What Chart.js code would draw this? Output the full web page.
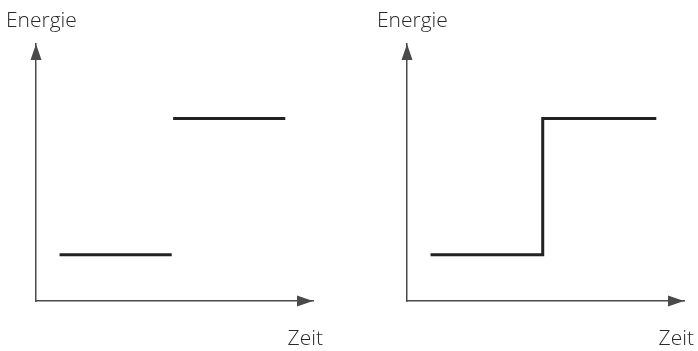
<!DOCTYPE html>
<html>
<head>
<meta charset="utf-8">
<script src="https://cdn.jsdelivr.net/npm/chart.js@4.4.1/dist/chart.umd.min.js"></script>
<style>
  html, body { margin: 0; padding: 0; background: #fff; }
  body { width: 698px; height: 351px; position: relative; overflow: hidden; }
  .panel { position: absolute; top: 0; width: 327px; height: 351px; }
  #left { left: 0; }
  #right { left: 371px; }
</style>
</head>
<body>
<div class="panel" id="left"><canvas id="chartLeft"></canvas></div>
<div class="panel" id="right"><canvas id="chartRight"></canvas></div>
<script>
// axis labels
const yLabel = 'Energie';
const xLabel = 'Zeit';

// energy levels (arbitrary units, 0..10)
const energyLow = 1.8;
const energyHigh = 7.1;

// time positions (arbitrary units, 0..10)
const lowStart = 0.85;
const lowEnd = 4.9;
const highStart = 4.95;
const highEnd = 9.0;
const stepAt = 4.9;

const lineColor = '#222';
const axisColor = '#4a4a4a';

// draws arrow heads at the axis ends and the two axis labels
const axisDecor = {
  id: 'axisDecor',
  afterDraw(chart) {
    const { ctx, chartArea } = chart;
    const x0 = chartArea.left, y0 = chartArea.bottom;
    ctx.save();
    ctx.fillStyle = axisColor;
    // y arrow
    ctx.beginPath();
    ctx.moveTo(x0, chartArea.top);
    ctx.lineTo(x0 - 5.5, chartArea.top + 16);
    ctx.lineTo(x0 + 5.5, chartArea.top + 16);
    ctx.closePath();
    ctx.fill();
    // x arrow
    ctx.beginPath();
    ctx.moveTo(chartArea.right, y0);
    ctx.lineTo(chartArea.right - 16, y0 - 5.5);
    ctx.lineTo(chartArea.right - 16, y0 + 5.5);
    ctx.closePath();
    ctx.fill();

    ctx.fillStyle = '#2a2a2a';
    ctx.font = '300 21px "Open Sans", "Noto Sans", sans-serif';
    ctx.textBaseline = 'alphabetic';
    ctx.textAlign = 'left';
    ctx.fillText(yLabel, x0 - 30, 27);
    ctx.textAlign = 'right';
    ctx.fillText(xLabel, chartArea.right + 10, 345);
    ctx.restore();
  }
};

function baseOptions() {
  return {
    responsive: true,
    maintainAspectRatio: false,
    animation: false,
    layout: { padding: { left: 36, right: 14, top: 44, bottom: 50 } },
    plugins: { legend: { display: false }, tooltip: { enabled: false } },
    elements: {
      point: { radius: 0 },
      line: { borderWidth: 3, borderColor: lineColor, borderCapStyle: 'butt', borderJoinStyle: 'miter', tension: 0 }
    },
    scales: {
      x: {
        type: 'linear', min: 0, max: 10,
        grid: { display: false },
        ticks: { display: false },
        border: { display: true, color: axisColor, width: 1.5 },
        afterFit(scale) { scale.height = 0; }
      },
      y: {
        type: 'linear', min: 0, max: 10,
        grid: { display: false },
        ticks: { display: false },
        border: { display: true, color: axisColor, width: 1.5 },
        afterFit(scale) { scale.width = 0; }
      }
    }
  };
}

// left: two separate energy levels
new Chart(document.getElementById('chartLeft'), {
  type: 'line',
  data: {
    datasets: [
      { data: [{ x: lowStart, y: energyLow }, { x: lowEnd, y: energyLow }] },
      { data: [{ x: highStart, y: energyHigh }, { x: highEnd, y: energyHigh }] }
    ]
  },
  options: baseOptions(),
  plugins: [axisDecor]
});

// right: step from low to high level
new Chart(document.getElementById('chartRight'), {
  type: 'line',
  data: {
    datasets: [
      {
        data: [
          { x: lowStart, y: energyLow },
          { x: stepAt, y: energyLow },
          { x: stepAt, y: energyHigh },
          { x: highEnd, y: energyHigh }
        ]
      }
    ]
  },
  options: baseOptions(),
  plugins: [axisDecor]
});
</script>
</body>
</html>
